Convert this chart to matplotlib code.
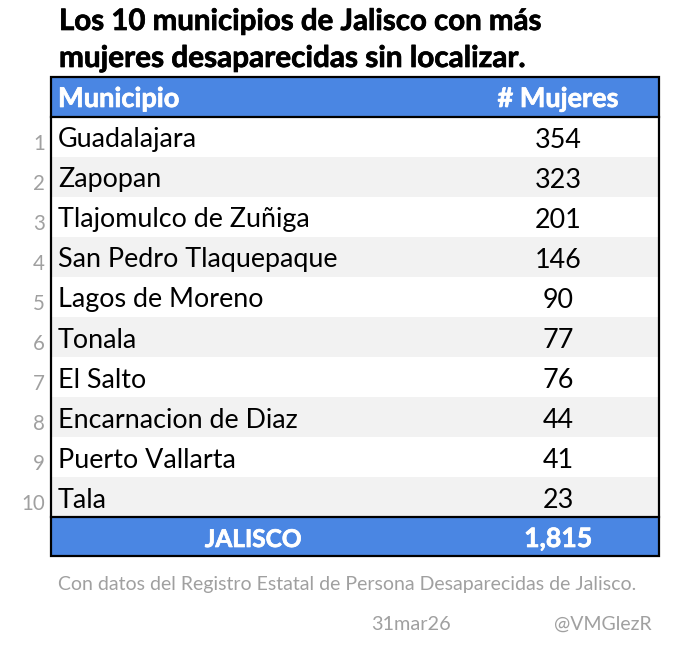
import matplotlib
matplotlib.use("Agg")
import matplotlib.pyplot as plt
import matplotlib.patheffects as pe
from matplotlib.patches import Rectangle

title_lines = ["Los 10 municipios de Jalisco con más", "mujeres desaparecidas sin localizar."]
header = ["Municipio", "# Mujeres"]
municipios = ["Guadalajara", "Zapopan", "Tlajomulco de Zuñiga", "San Pedro Tlaquepaque",
              "Lagos de Moreno", "Tonala", "El Salto", "Encarnacion de Diaz", "Puerto Vallarta", "Tala"]
mujeres = [354, 323, 201, 146, 90, 77, 76, 44, 41, 23]
total_label = "JALISCO"
total_value = 1815
source = "Con datos del Registro Estatal de Persona Desaparecidas de Jalisco."
date_label = "31mar26"
handle = "@VMGlezR"

BLUE = "#4a86e3"; STRIPE = "#f2f2f2"; GREY = "#a0a0a0"
plt.rcParams['font.family'] = ['Lato', 'DejaVu Sans']

fig = plt.figure(figsize=(6.94, 6.50), dpi=100)
ax = fig.add_axes([0, 0, 1, 1])
ax.set_xlim(0, 694); ax.set_ylim(650, 0); ax.axis("off")

L, R = 51, 659
TOP, HB = 77, 117
RH = 40
n = len(municipios)
RB = HB + n * RH
BOT = RB + 39
XN, XV = 58, 558

def heavy(color, w=0.5):
    return [pe.withStroke(linewidth=w, foreground=color)]

ax.add_patch(Rectangle((L, TOP), R - L, HB - TOP, fc=BLUE, ec="none"))
ax.add_patch(Rectangle((L, RB), R - L, BOT - RB, fc=BLUE, ec="none"))
for i, (m, v) in enumerate(zip(municipios, mujeres)):
    y0 = HB + i * RH
    if i % 2 == 1:
        ax.add_patch(Rectangle((L, y0), R - L, RH, fc=STRIPE, ec="none"))
    yb = y0 + 30.5
    ax.text(XN, yb, m, fontsize=19.4, va="baseline", ha="left", color="black")
    ax.text(XV, yb, str(v), fontsize=19.4, va="baseline", ha="center", color="black")
    ax.text(45, yb + 2, str(i + 1), fontsize=14.8, va="baseline", ha="right", color=GREY)

ax.add_patch(Rectangle((L, TOP), R - L, BOT - TOP, fc="none", ec="black", lw=1.6, zorder=5))
ax.plot([L, R], [HB, HB], color="black", lw=1.6, zorder=5)
ax.plot([L, R], [RB, RB], color="black", lw=1.6, zorder=5)

ax.text(XN, 107, header[0], fontsize=19.6, weight="bold", color="white", va="baseline", ha="left", path_effects=heavy("white"))
ax.text(XV, 107, header[1], fontsize=19.5, weight="bold", color="white", va="baseline", ha="center", path_effects=heavy("white"))
ax.text(253, 547, total_label, fontsize=17.6, weight="bold", color="white", va="baseline", ha="center", path_effects=heavy("white"))
ax.text(XV, 547, f"{total_value:,}", fontsize=19.2, weight="bold", color="white", va="baseline", ha="center", path_effects=heavy("white"))

ax.text(59, 30, title_lines[0], fontsize=21.2, weight="bold", color="black", va="baseline", ha="left", path_effects=heavy("black"))
ax.text(59, 67, title_lines[1], fontsize=21.4, weight="bold", color="black", va="baseline", ha="left", path_effects=heavy("black"))

ax.text(58, 590, source, fontsize=14.0, color=GREY, va="baseline", ha="left")
ax.text(411, 630, date_label, fontsize=14.3, color=GREY, va="baseline", ha="center")
ax.text(603, 630, handle, fontsize=14, color=GREY, va="baseline", ha="center")

fig.savefig("out.png", dpi=100, facecolor="white")
